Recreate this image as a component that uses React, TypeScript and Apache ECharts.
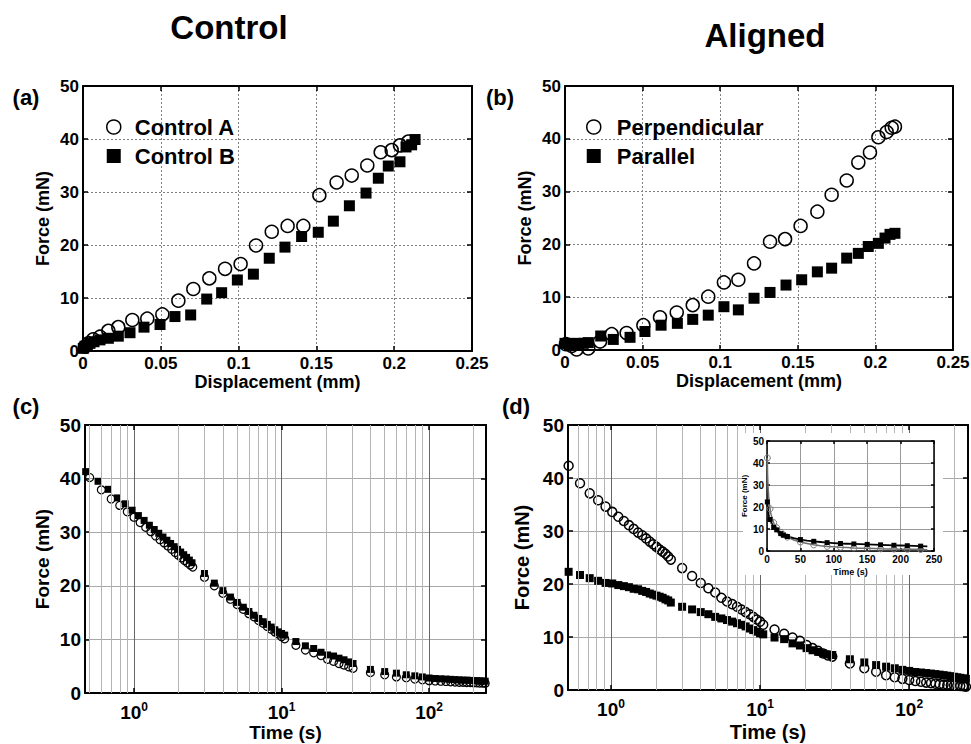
import React, { useEffect, useRef } from 'react';
import * as echarts from 'echarts';

const FONT = '"Liberation Sans", Arial, Helvetica, sans-serif';

// ---------- (a) Control: force vs displacement ----------
const ctrlADisp = [0.0013, 0.0034, 0.0066, 0.0109, 0.0163, 0.0227, 0.0317, 0.0413, 0.051, 0.0613, 0.0709, 0.0812, 0.0913, 0.1013, 0.1112, 0.1213, 0.1315, 0.1416, 0.1519, 0.163, 0.1727, 0.1827, 0.1913, 0.1984, 0.2037, 0.2091];
const ctrlAForce = [0.8, 1.45, 2.2, 2.7, 3.8, 4.5, 5.85, 6.1, 6.9, 9.5, 11.7, 13.7, 15.5, 16.4, 19.9, 22.5, 23.6, 23.6, 29.4, 31.8, 33.1, 35.0, 37.5, 37.9, 38.8, 39.5];
const ctrlBDisp = [0.0002, 0.0013, 0.0028, 0.0045, 0.0071, 0.0109, 0.0163, 0.0227, 0.0302, 0.0392, 0.0495, 0.0591, 0.0692, 0.0795, 0.0891, 0.0992, 0.1095, 0.1197, 0.1298, 0.1405, 0.1512, 0.1609, 0.1712, 0.1819, 0.1898, 0.1962, 0.2037, 0.2076, 0.2112, 0.2134];
const ctrlBForce = [0.5, 0.9, 1.1, 1.45, 1.75, 2.1, 2.4, 2.8, 3.45, 4.5, 5.0, 6.5, 6.8, 9.8, 11.0, 13.4, 14.5, 17.5, 19.6, 21.6, 22.4, 24.5, 27.4, 29.8, 32.6, 34.9, 35.7, 38.5, 38.9, 39.9];

// ---------- (b) Aligned: force vs displacement ----------
const perpDisp = [0.0006, 0.0043, 0.0075, 0.015, 0.0226, 0.0301, 0.0397, 0.0505, 0.0612, 0.072, 0.0823, 0.0923, 0.1024, 0.1117, 0.1218, 0.1321, 0.1418, 0.1518, 0.1626, 0.1718, 0.1815, 0.189, 0.1965, 0.2019, 0.2073, 0.2105, 0.2126];
const perpForce = [1.1, 0.75, 0.1, 0.3, 1.6, 3.0, 3.2, 4.7, 6.2, 7.1, 8.5, 10.1, 12.8, 13.3, 16.4, 20.5, 21.0, 23.5, 26.2, 29.4, 32.1, 35.5, 37.4, 40.3, 41.3, 42.1, 42.3];
const paraDisp = [0.0, 0.0021, 0.0054, 0.0086, 0.0118, 0.015, 0.023, 0.0311, 0.0419, 0.0515, 0.0619, 0.0724, 0.0823, 0.0923, 0.1024, 0.1117, 0.1218, 0.1321, 0.1424, 0.1525, 0.1626, 0.1718, 0.1815, 0.189, 0.1954, 0.2019, 0.2062, 0.2094, 0.2126];
const paraForce = [1.26, 1.26, 1.1, 1.26, 1.26, 1.4, 2.65, 2.0, 2.4, 3.5, 4.7, 5.05, 5.8, 6.6, 8.2, 7.6, 9.8, 10.9, 12.3, 13.3, 14.8, 15.5, 17.4, 18.3, 19.6, 20.2, 21.2, 21.9, 22.1];

// ---------- (c) Control: relaxation ----------
const relaxTimeA = [0.5, 0.6, 0.7, 0.8, 0.9, 1.0, 1.1, 1.2, 1.3, 1.4, 1.5, 1.6, 1.7, 1.8, 1.9, 2.0, 2.1, 2.2, 2.3, 2.4, 2.5,
  3.0, 3.5, 4.0, 4.5, 5.0, 5.5, 6.0, 6.5, 7.0, 7.5, 8.0, 8.5, 9.0, 9.5, 10.0, 10.5,
  12.5, 14.5, 16.5, 18.5, 20.5, 22.5, 24.5, 26.5, 28.5, 30.5,
  40, 50, 60, 70, 80, 90, 100, 110, 120, 130, 140, 150, 160, 170, 180, 190, 200, 210, 220, 230, 240];
const relaxForceA = [40.2, 37.9, 36.2, 35.0, 33.8, 32.8, 31.8, 30.9, 30.1, 29.3, 28.6, 28.0, 27.4, 26.8, 26.2, 25.7, 25.2, 24.7, 24.3, 23.9, 23.5,
  21.6, 20.0, 18.6, 17.5, 16.5, 15.6, 14.8, 14.2, 13.5, 13.0, 12.4, 11.9, 11.4, 11.0, 10.5, 10.1,
  8.9, 8.0, 7.5, 7.0, 6.3, 5.9, 5.5, 5.2, 4.9, 4.6,
  3.8, 3.4, 3.0, 2.85, 2.6, 2.45, 2.3, 2.25, 2.2, 2.15, 2.1, 2.05, 2.0, 2.0, 1.95, 1.95, 1.9, 1.9, 1.85, 1.85, 1.8];
const relaxTimeB = [0.47, 0.57, 0.67, 0.77, 0.87, 0.97, 1.07, 1.17, 1.27, 1.37, 1.47, 1.57, 1.67, 1.77, 1.87, 1.97, 2.07, 2.17, 2.27, 2.37, 2.47,
  3.0, 3.5, 4.0, 4.5, 5.0, 5.5, 6.0, 6.5, 7.0, 7.5, 8.0, 8.5, 9.0, 9.5, 10.0, 10.5,
  12.5, 14.5, 16.5, 18.5, 20.5, 22.5, 24.5, 26.5, 28.5, 30.5,
  40, 50, 60, 70, 80, 90, 100, 110, 120, 130, 140, 150, 160, 170, 180, 190, 200, 210, 220, 230, 240];
const relaxForceB = [41.3, 39.5, 38.0, 36.4, 35.3, 34.1, 33.1, 32.2, 31.3, 30.5, 29.8, 29.1, 28.5, 27.9, 27.3, 26.8, 26.3, 25.8, 25.3, 24.8, 24.3,
  22.3, 20.5, 19.1, 17.9, 16.9, 16.0, 15.2, 14.5, 13.9, 13.3, 12.8, 12.3, 11.8, 11.4, 11.1, 10.8,
  9.6, 8.8, 8.3, 7.6, 7.1, 6.9, 6.5, 6.2, 5.8, 5.5,
  4.4, 4.0, 3.7, 3.4, 3.2, 3.0, 2.8, 2.7, 2.65, 2.6, 2.55, 2.5, 2.45, 2.4, 2.4, 2.35, 2.3, 2.3, 2.25, 2.25, 2.2];

// ---------- (d) Aligned: relaxation ----------
const relaxTimeD = [0.52, 0.62, 0.72, 0.82, 0.92, 1.02, 1.12, 1.22, 1.32, 1.42, 1.52, 1.62, 1.72, 1.82, 1.92, 2.02, 2.12, 2.22, 2.32, 2.42, 2.52,
  3.0, 3.5, 4.0, 4.5, 5.0, 5.5, 6.0, 6.5, 7.0, 7.5, 8.0, 8.5, 9.0, 9.5, 10.0, 10.5,
  12.5, 14.5, 16.5, 18.5, 20.5, 22.5, 24.5, 26.5, 28.5, 30.5,
  40, 50, 60, 70, 80, 90, 100, 110, 120, 130, 140, 150, 160, 170, 180, 190, 200, 210, 220, 230, 240];
const relaxPerp = [42.3, 39.0, 37.1, 35.8, 34.6, 33.6, 32.7, 31.9, 31.1, 30.4, 29.7, 29.2, 28.6, 28.0, 27.5, 27.0, 26.5, 26.1, 25.7, 25.2, 24.6,
  23.0, 21.5, 20.2, 19.2, 18.4, 17.4, 16.7, 16.2, 15.7, 15.2, 14.7, 14.3, 13.8, 13.3, 12.9, 12.3,
  11.4, 10.6, 9.9, 9.3, 8.5, 7.9, 7.4, 6.9, 6.5, 6.3,
  5.0, 4.1, 3.45, 2.8, 2.4, 2.1, 1.9, 1.7, 1.55, 1.4, 1.3, 1.2, 1.1, 1.0, 0.95, 0.9, 0.85, 0.8, 0.75, 0.7, 0.6];
const relaxPara = [22.3, 21.7, 21.1, 20.6, 20.2, 20.1, 19.8, 19.6, 19.4, 19.1, 19.0, 18.7, 18.5, 18.2, 18.0, 17.8, 17.6, 17.4, 17.1, 16.9, 16.5,
  15.7, 15.2, 14.7, 14.3, 13.8, 13.5, 13.2, 12.9, 12.6, 12.3, 12.0, 11.6, 11.3, 11.0, 10.7, 10.5,
  9.9, 9.6, 8.8, 8.4, 7.9, 7.5, 7.2, 6.9, 6.7, 6.6,
  5.8, 5.2, 4.7, 4.4, 4.1, 3.8, 3.6, 3.4, 3.3, 3.2, 3.1, 3.0, 2.9, 2.8, 2.7, 2.6, 2.5, 2.4, 2.3, 2.2, 2.1];
// points shown as markers in the linear-time inset
const insetIdx = [0, 24, 35, 38, 41, 43, 46, 48, 50, 52, 54, 56, 58, 60, 62, 64, 66];

// minor log grid lines
const logMinorC = [0.5, 0.6, 0.7, 0.8, 0.9, 2, 3, 4, 5, 6, 7, 8, 9, 20, 30, 40, 50, 60, 70, 80, 90, 200];
const logMinorD = [0.6, 0.7, 0.8, 0.9, 2, 3, 4, 5, 6, 7, 8, 9, 20, 30, 40, 50, 60, 70, 80, 90, 200];

const zip = (xs: number[], ys: number[]) => xs.map((x, i) => [x, ys[i]]);

const bold = (size: number) => ({ fontFamily: FONT, fontWeight: 'bold', fontSize: size, color: '#000' });

function axisPair(kind: 'x' | 'y', grid: number, base: any, o: any) {
  const line = { show: true, onZero: false, lineStyle: { color: '#000', width: o.lineW ?? 2 } };
  const tick = { show: true, inside: true, length: o.tickLen ?? 5, lineStyle: { color: '#000', width: 1.5 } };
  const main = {
    gridIndex: grid, ...base, position: kind === 'x' ? 'bottom' : 'left',
    axisLine: line, axisTick: tick, axisLabel: o.label, splitLine: o.split,
    name: o.name, nameLocation: 'middle', nameGap: o.nameGap, nameTextStyle: bold(o.nameSize ?? 18),
    z: o.z ?? 0,
  };
  const twin = {
    gridIndex: grid, ...base, position: kind === 'x' ? 'top' : 'right',
    axisLine: line, axisTick: tick, axisLabel: { show: false }, splitLine: { show: false },
    z: o.z ?? 0,
  };
  return [main, twin];
}

const logLabel = (size: number, margin: number) => ({
  margin,
  formatter: (v: number) => {
    const e = Math.log10(v);
    const r = Math.round(e);
    return Math.abs(e - r) < 1e-6 ? `{b|10}{s|${r}}` : '';
  },
  rich: {
    b: { ...bold(size), lineHeight: size + 4 },
    s: { ...bold(Math.round(size * 0.65)), verticalAlign: 'top' },
  },
});

const dotted = { show: true, lineStyle: { color: '#808080', width: 1, type: [2, 2] } };
const solidGrey = { show: true, lineStyle: { color: '#a8a8a8', width: 1, type: 'solid' } };
const majorGrey = { show: true, lineStyle: { color: '#666', width: 1, type: 'solid' } };

function minorLines(vals: number[]) {
  return {
    silent: true, symbol: ['none', 'none'], label: { show: false },
    lineStyle: { color: '#b4b4b4', width: 1, type: 'solid' },
    emphasis: { disabled: true },
    data: vals.map((v) => ({ xAxis: v })),
  };
}

const App: React.FC = () => {
  const ref = useRef<HTMLDivElement>(null);
  useEffect(() => {
    if (!ref.current) return;
    const chart = echarts.init(ref.current, undefined, { renderer: 'svg' });

    const dispX = { type: 'value', min: 0, max: 0.25, interval: 0.05 };
    const forceY = { type: 'value', min: 0, max: 50, interval: 10 };

    const xAxis = [
      ...axisPair('x', 0, dispX, { label: { ...bold(17), margin: 4 }, split: dotted, name: 'Displacement (mm)', nameGap: 14, nameSize: 18 }),
      ...axisPair('x', 1, dispX, { label: { ...bold(17), margin: 4 }, split: dotted, name: 'Displacement (mm)', nameGap: 14, nameSize: 18 }),
      ...axisPair('x', 2, { type: 'log', logBase: 10, min: 0.465, max: 243 }, { label: logLabel(19, 8), split: majorGrey, name: 'Time (s)', nameGap: 30, nameSize: 19 }),
      ...axisPair('x', 3, { type: 'log', logBase: 10, min: 0.515, max: 248 }, { label: logLabel(19, 8), split: majorGrey, name: 'Time (s)', nameGap: 32, nameSize: 20 }),
      ...axisPair('x', 4, { type: 'value', min: 0, max: 250, interval: 50 }, { label: { ...bold(10), margin: 3 }, split: { show: true, lineStyle: { color: '#9a9a9a', width: 1 } }, name: 'Time (s)', nameGap: 16, nameSize: 9, z: 11, lineW: 1.5, tickLen: 3 }),
    ];
    const yAxis = [
      ...axisPair('y', 0, forceY, { label: { ...bold(17), margin: 4 }, split: dotted, name: 'Force (mN)', nameGap: 31, nameSize: 18 }),
      ...axisPair('y', 1, forceY, { label: { ...bold(17), margin: 4 }, split: dotted, name: 'Force (mN)', nameGap: 31, nameSize: 18 }),
      ...axisPair('y', 2, forceY, { label: { ...bold(19), margin: 4 }, split: solidGrey, name: 'Force (mN)', nameGap: 33, nameSize: 19 }),
      ...axisPair('y', 3, forceY, { label: { ...bold(19), margin: 4 }, split: solidGrey, name: 'Force (mN)', nameGap: 36, nameSize: 20 }),
      ...axisPair('y', 4, forceY, { label: { ...bold(10), margin: 3 }, split: { show: true, lineStyle: { color: '#9a9a9a', width: 1 } }, name: 'Force (mN)', nameGap: 19, nameSize: 8, z: 11, lineW: 1.5, tickLen: 3 }),
    ];

    const hollow = (size: number, bw: number, color = '#000') => ({
      symbol: 'circle', symbolSize: size,
      itemStyle: { color: 'transparent', borderColor: color, borderWidth: bw, opacity: 1 },
    });
    const filled = (size: number) => ({ symbol: 'rect', symbolSize: size, itemStyle: { color: '#000', opacity: 1 } });

    const legendText = (pad: number) => ({ ...bold(22), lineHeight: 24, padding: [0, 0, 0, pad] });

    const option: any = {
      animation: false,
      backgroundColor: '#fff',
      grid: [
        { left: 83, top: 86, width: 389, height: 265, outerBoundsMode: 'none' },
        { left: 565, top: 86, width: 388, height: 264, outerBoundsMode: 'none' },
        { left: 85, top: 425, width: 401, height: 268, outerBoundsMode: 'none' },
        { left: 568, top: 425, width: 400, height: 265, outerBoundsMode: 'none' },
        { left: 767, top: 441, width: 167, height: 110, outerBoundsMode: 'none' },
      ],
      xAxis,
      yAxis,
      legend: [
        {
          orient: 'vertical', left: 106, top: 115, padding: 0, itemWidth: 14, itemHeight: 14, itemGap: 5,
          selectedMode: false, textStyle: legendText(9),
          data: [
            { name: 'Control A', icon: 'circle', itemStyle: { color: 'transparent', borderColor: '#000', borderWidth: 1.5 } },
            { name: 'Control B', icon: 'rect', itemStyle: { color: '#000', borderWidth: 0 } },
          ],
        },
        {
          orient: 'vertical', left: 586, top: 115, padding: 0, itemWidth: 14, itemHeight: 14, itemGap: 5,
          selectedMode: false, textStyle: legendText(11),
          data: [
            { name: 'Perpendicular', icon: 'circle', itemStyle: { color: 'transparent', borderColor: '#000', borderWidth: 1.5 } },
            { name: 'Parallel', icon: 'rect', itemStyle: { color: '#000', borderWidth: 0 } },
          ],
        },
      ],
      series: [
        // (a)
        { type: 'scatter', name: 'Control A', xAxisIndex: 0, yAxisIndex: 0, z: 3, ...hollow(13, 1.5), data: zip(ctrlADisp, ctrlAForce) },
        { type: 'scatter', name: 'Control B', xAxisIndex: 0, yAxisIndex: 0, z: 3, ...filled(11), data: zip(ctrlBDisp, ctrlBForce) },
        // (b)
        { type: 'scatter', name: 'Perpendicular', xAxisIndex: 2, yAxisIndex: 2, z: 3, ...hollow(13, 1.5), data: zip(perpDisp, perpForce) },
        { type: 'scatter', name: 'Parallel', xAxisIndex: 2, yAxisIndex: 2, z: 3, ...filled(11), data: zip(paraDisp, paraForce) },
        // (c)
        { type: 'line', name: 'minor-c', xAxisIndex: 4, yAxisIndex: 4, z: 1, data: [], markLine: minorLines(logMinorC) },
        { type: 'scatter', name: 'Control B', xAxisIndex: 4, yAxisIndex: 4, z: 3, ...filled(7), data: zip(relaxTimeB, relaxForceB) },
        { type: 'scatter', name: 'Control A', xAxisIndex: 4, yAxisIndex: 4, z: 3, ...hollow(8, 1.2), data: zip(relaxTimeA, relaxForceA) },
        // (d)
        { type: 'line', name: 'minor-d', xAxisIndex: 6, yAxisIndex: 6, z: 1, data: [], markLine: minorLines(logMinorD) },
        { type: 'scatter', name: 'Parallel', xAxisIndex: 6, yAxisIndex: 6, z: 3, ...filled(8), data: zip(relaxTimeD, relaxPara) },
        { type: 'scatter', name: 'Perpendicular', xAxisIndex: 6, yAxisIndex: 6, z: 3, ...hollow(9, 1.5), data: zip(relaxTimeD, relaxPerp) },
        // inset
        { type: 'line', name: 'Perpendicular fit', xAxisIndex: 8, yAxisIndex: 8, z: 12, showSymbol: false, lineStyle: { color: '#6e6e6e', width: 1.5 }, data: zip(relaxTimeD, relaxPerp) },
        { type: 'line', name: 'Parallel fit', xAxisIndex: 8, yAxisIndex: 8, z: 12, showSymbol: false, lineStyle: { color: '#000', width: 1.8 }, data: zip(relaxTimeD, relaxPara) },
        { type: 'scatter', name: 'Perpendicular inset', xAxisIndex: 8, yAxisIndex: 8, z: 13, ...hollow(6, 1, '#777'), data: insetIdx.map((i) => [relaxTimeD[i], relaxPerp[i]]) },
        { type: 'scatter', name: 'Parallel inset', xAxisIndex: 8, yAxisIndex: 8, z: 13, ...filled(5), data: insetIdx.map((i) => [relaxTimeD[i], relaxPara[i]]) },
      ],
      graphic: {
        elements: [
          { type: 'rect', z: 10, silent: true, shape: { x: 743, y: 433, width: 200, height: 142 }, style: { fill: '#fff' } },
          { type: 'text', x: 229, y: 27, style: { text: 'Control', font: `bold 33px ${FONT}`, fill: '#000', align: 'center', verticalAlign: 'middle', textAlign: 'center', textVerticalAlign: 'middle' } },
          { type: 'text', x: 765, y: 35, style: { text: 'Aligned', font: `bold 33px ${FONT}`, fill: '#000', align: 'center', verticalAlign: 'middle', textAlign: 'center', textVerticalAlign: 'middle' } },
          { type: 'text', x: 26, y: 97, style: { text: '(a)', font: `bold 22px ${FONT}`, fill: '#000', align: 'center', verticalAlign: 'middle', textAlign: 'center', textVerticalAlign: 'middle' } },
          { type: 'text', x: 500, y: 97, style: { text: '(b)', font: `bold 22px ${FONT}`, fill: '#000', align: 'center', verticalAlign: 'middle', textAlign: 'center', textVerticalAlign: 'middle' } },
          { type: 'text', x: 26, y: 406, style: { text: '(c)', font: `bold 22px ${FONT}`, fill: '#000', align: 'center', verticalAlign: 'middle', textAlign: 'center', textVerticalAlign: 'middle' } },
          { type: 'text', x: 516, y: 406, style: { text: '(d)', font: `bold 22px ${FONT}`, fill: '#000', align: 'center', verticalAlign: 'middle', textAlign: 'center', textVerticalAlign: 'middle' } },
        ],
      },
    };

    chart.setOption(option);
    return () => chart.dispose();
  }, []);

  return <div ref={ref} style={{ position: 'absolute', left: 0, top: 0, width: 971, height: 744, background: '#fff' }} />;
};

export default App;
